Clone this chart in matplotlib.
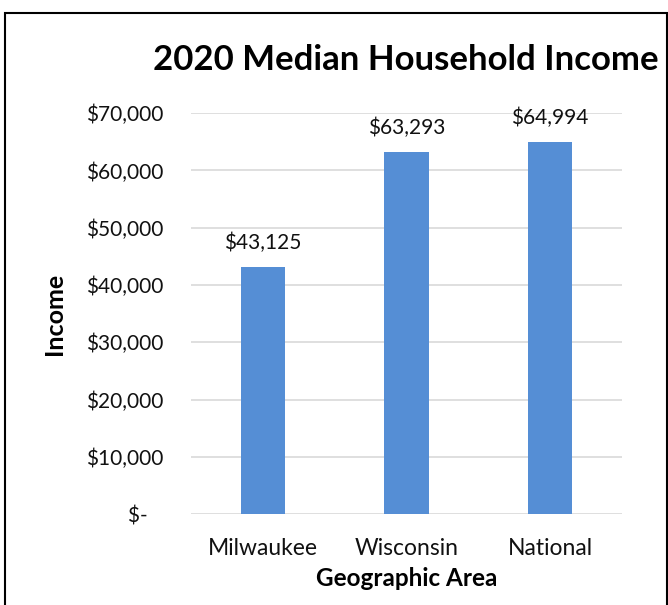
import matplotlib.pyplot as plt
from matplotlib.patches import Rectangle

# Median household income, 2020
areas = ["Milwaukee", "Wisconsin", "National"]
income = [43125, 63293, 64994]
y_ticks = [0, 10000, 20000, 30000, 40000, 50000, 60000, 70000]

plt.rcParams["font.family"] = ["Lato", "DejaVu Sans"]

fig = plt.figure(figsize=(6.68, 6.05), dpi=100)
ax = fig.add_axes([0.286, 0.150, 0.645, 0.663])

x = range(len(areas))
bars = ax.bar(x, income, width=0.31, color="#558ed5", zorder=3)

# value labels on top of each bar
for b, v in zip(bars, income):
    ax.annotate(f"${v:,}", (b.get_x() + b.get_width() / 2, v),
                xytext=(0, 10), textcoords="offset points",
                ha="center", va="bottom", fontsize=15, color="#111111")

ax.set_xlim(-0.5, len(areas) - 0.5)
ax.set_ylim(0, 70000)
ax.set_yticks(y_ticks)
ax.set_yticklabels([f"${t:,}" if t else "$-   " for t in y_ticks])
ax.set_xticks(list(x))
ax.set_xticklabels(areas)
ax.tick_params(axis="y", length=0, pad=20, labelsize=15, colors="#111111")
ax.tick_params(axis="x", length=0, pad=17, labelsize=16.5, colors="#111111")

ax.grid(axis="y", color="#d9d9d9", linewidth=1.2, zorder=0)
for s in ax.spines.values():
    s.set_visible(False)

ax.set_xlabel("Geographic Area", fontsize=17.5, fontweight="bold", labelpad=6)
ax.set_ylabel("Income", fontsize=18, fontweight="bold", labelpad=14)

fig.text(0.607, 0.901, "2020 Median Household Income", ha="center", va="center",
         fontsize=25, fontweight="bold")

# chart border
fig.patches.append(Rectangle((5 / 668, -0.05), 662 / 668, 1 - 13 / 605 + 0.05,
                             transform=fig.transFigure, fill=False,
                             edgecolor="black", linewidth=1.5))

fig.savefig("out.png", dpi=100)
